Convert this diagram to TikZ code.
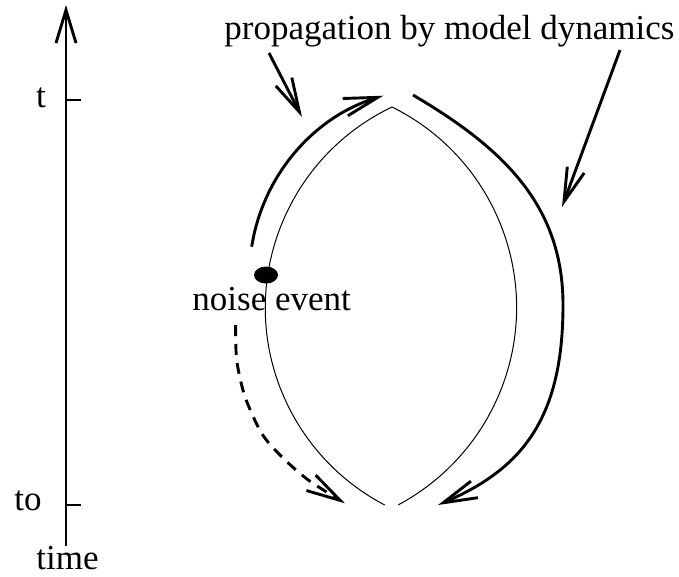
\documentclass[tikz,border=0pt]{standalone}
\usepackage{fontspec}
\setmainfont{Liberation Serif}
\usetikzlibrary{arrows.meta,shapes.geometric}
\begin{document}
\begin{tikzpicture}[x=1pt,y=-1pt,
  lbl/.style={font=\fontsize{35}{42}\selectfont, inner sep=0pt, anchor=base},
  thinline/.style={line width=1pt},
  thickline/.style={line width=2.9pt},
  barbtip/.style={-{Straight Barb[length=34pt,width=18pt]}},
  axistip/.style={-{Straight Barb[length=33pt,width=20pt]}},
  dot/.style={ellipse, fill=black, inner sep=0pt, minimum width=24pt, minimum height=17pt}]
\useasboundingbox (0,0) rectangle (679,576);

% time axis
\coordinate (axb) at (66,546);
\coordinate (axt) at (66,5);
\draw[thickline, axistip] (axb) -- (axt);
\coordinate (tt) at (66,100);
\coordinate (tte) at (81,100);
\coordinate (to) at (66,505);
\coordinate (toe) at (81,505);
\draw[thickline] (tt) -- (tte);
\draw[thickline] (to) -- (toe);
\node[lbl] (lt) at (41,107) {t};
\node[lbl] (lto) at (28,510) {to};
\node[lbl] (ltime) at (67.5,569) {time};

% lens (thin arcs)
\coordinate (top) at (392,107);
\draw[thinline] (top) arc[start angle=244.5, end angle=117.6, radius=222.5];
\draw[thinline] (top) arc[start angle=-63.7, end angle=61.9, radius=223.7];

% thick left arc (propagation up)
\coordinate (ls) at (251.7,246.7);
\draw[thickline, barbtip] (ls) arc[start angle=188.85, end angle=253.3, radius=187.8];

% thick right arc (propagation down)
\coordinate (rs) at (413,95);
\coordinate (rm) at (563,305);
\coordinate (re) at (438,505);
\draw[thickline, barbtip] (rs) .. controls (503,148) and (563,205) .. (rm)
  .. controls (563,420) and (521,469.5) .. (re);

% dashed arc
\draw[thickline, barbtip, dash pattern=on 11pt off 8pt] plot[smooth] coordinates {(235.7,325) (236.7,360) (245,396.7) (261.7,433.3) (281.7,456.7) (308.3,480) (345,503.3)};

% noise event
\node[dot] (noise) at (266,275) {};
\node[lbl] (lnoise) at (271.7,310) {noise event};

% label and pointers
\node[lbl] (prop) at (449.5,39) {propagation by model dynamics};
\coordinate (p1s) at (269,53);
\coordinate (p1e) at (302,117);
\coordinate (p2s) at (620,50);
\coordinate (p2e) at (562,207);
\draw[thickline, barbtip] (p1s) -- (p1e);
\draw[thickline, barbtip] (p2s) -- (p2e);
\end{tikzpicture}
\end{document}
